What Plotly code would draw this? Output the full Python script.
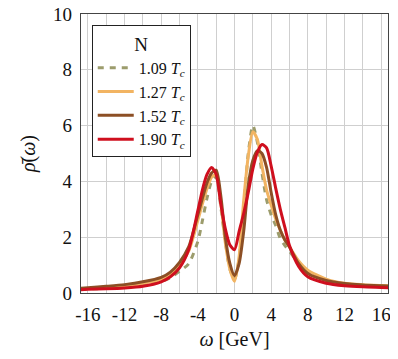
import plotly.graph_objects as go

# ---- data ----
omega = [-16.8, -16, -14, -12, -10, -8, -7, -6, -5, -4, -3.5, -3, -2.5, -2, -1.5, -1, -0.5, 0,
         0.5, 1, 1.5, 2, 2.5, 3, 3.5, 4, 4.5, 5, 5.5, 6, 7, 8, 10, 12, 14, 16, 16.8]

rho_109 = [0.12, 0.14, 0.17, 0.22, 0.30, 0.42, 0.55, 0.78, 1.05, 1.85, 2.60, 3.40, 4.00, 4.17, 3.10, 1.85, 0.85, 0.50,
           1.20, 3.00, 5.00, 6.00, 5.40, 4.30, 3.35, 2.80, 2.42, 1.95, 1.70, 1.50, 1.05, 0.75, 0.45, 0.32, 0.26, 0.23, 0.22]
rho_127 = [0.14, 0.16, 0.20, 0.26, 0.35, 0.50, 0.68, 1.00, 1.50, 2.60, 3.20, 3.75, 4.15, 4.25, 3.25, 1.80, 0.85, 0.42,
           1.30, 3.30, 4.90, 5.78, 5.50, 4.55, 3.70, 3.15, 2.65, 2.25, 1.90, 1.65, 1.15, 0.82, 0.50, 0.35, 0.30, 0.27, 0.26]
rho_152 = [0.17, 0.19, 0.24, 0.30, 0.40, 0.56, 0.75, 1.10, 1.65, 2.80, 3.40, 3.95, 4.30, 4.40, 3.50, 2.00, 1.05, 0.62,
           1.05, 2.20, 3.85, 4.75, 5.10, 5.00, 4.50, 3.60, 2.80, 2.25, 1.90, 1.65, 1.05, 0.70, 0.45, 0.34, 0.29, 0.26, 0.25]
rho_190 = [0.12, 0.13, 0.15, 0.18, 0.24, 0.40, 0.58, 0.90, 1.55, 2.95, 3.70, 4.25, 4.50, 4.25, 3.20, 2.30, 1.72, 1.55,
           2.20, 2.85, 3.60, 4.45, 5.05, 5.32, 5.20, 4.55, 3.75, 3.00, 2.35, 1.70, 0.95, 0.58, 0.35, 0.26, 0.22, 0.20, 0.19]

series_names = ["1.09 <i>T<sub>c</sub></i>", "1.27 <i>T<sub>c</sub></i>",
                "1.52 <i>T<sub>c</sub></i>", "1.90 <i>T<sub>c</sub></i>"]
series_values = [rho_109, rho_127, rho_152, rho_190]

x_tickvals = [-16, -14, -12, -10, -8, -6, -4, -2, 0, 2, 4, 6, 8, 10, 12, 14, 16]
x_ticktext = ["-16", "", "-12", "", "-8", "", "-4", "", "0", "", "4", "", "8", "", "12", "", "16"]
y_tickvals = [0, 2, 4, 6, 8, 10]
y_ticktext = ["0", "2", "4", "6", "8", "10"]

# ---- styles ----
colors = ["#9c9c6c", "#f2b462", "#8c4f25", "#cf0f1e"]
dashes = ["6px,6px", "solid", "solid", "solid"]

FONT = "Liberation Serif, DejaVu Serif, serif"
fig = go.Figure()
for name, vals, col, dsh in zip(series_names, series_values, colors, dashes):
    fig.add_trace(go.Scatter(
        x=omega, y=vals, name=name, mode="lines",
        line=dict(color=col, width=3, dash=dsh, shape="spline", smoothing=0.7),
    ))

# the page body has an 8px margin, so the figure is 8px smaller and margins are reduced
fig.update_layout(
    width=390, height=351,
    margin=dict(l=73, r=10, t=6, b=66, autoexpand=False),
    paper_bgcolor="white", plot_bgcolor="white",
    font=dict(family=FONT, size=19, color="#111"),
    showlegend=True,
    legend=dict(
        x=0.035, y=0.96, xanchor="left", yanchor="top",
        bgcolor="white", bordercolor="#222", borderwidth=1,
        font=dict(family=FONT, size=16, color="#111"),
        title=dict(text="N", side="top center", font=dict(family=FONT, size=19)),
        tracegroupgap=0, itemwidth=36,
    ),
    xaxis=dict(
        range=[-16.75, 16.75], tickvals=x_tickvals, ticktext=x_ticktext,
        showgrid=True, gridcolor="#cfcfcf", gridwidth=1,
        showline=True, linecolor="#444", linewidth=1.2, mirror=True,
        ticks="outside", ticklen=4, tickcolor="rgba(0,0,0,0)",
        zeroline=False, automargin=False, ticklabeloverflow="allow",
        title=dict(text="<i>ω</i> [GeV]", standoff=8, font=dict(family=FONT, size=20)),
    ),
    yaxis=dict(
        range=[0, 10], tickvals=y_tickvals, ticktext=y_ticktext,
        showgrid=True, gridcolor="#cfcfcf", gridwidth=1,
        showline=True, linecolor="#444", linewidth=1.2, mirror=True,
        ticks="outside", ticklen=4, tickcolor="rgba(0,0,0,0)",
        zeroline=False, automargin=False, ticklabeloverflow="allow",
        title=dict(text="<i>ρ̄</i>(<i>ω</i>)", standoff=12, font=dict(family=FONT, size=20)),
    ),
)

fig.write_html("out.html")
